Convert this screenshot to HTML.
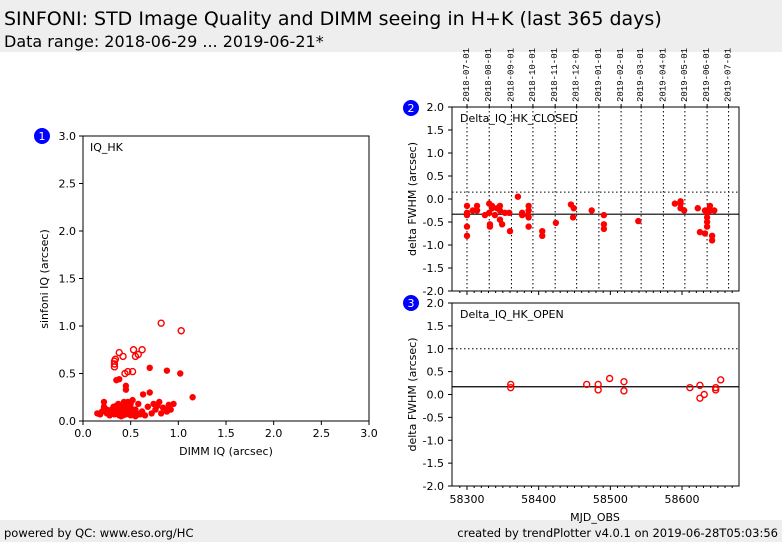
<!DOCTYPE html>
<html><head><meta charset="utf-8">
<style>
body{margin:0;width:782px;height:542px;background:#fff;font-family:"Liberation Sans","DejaVu Sans",sans-serif;overflow:hidden}
svg text{font-family:"DejaVu Sans","Liberation Sans",sans-serif}
svg text.mono{font-family:"Liberation Mono","DejaVu Sans Mono",monospace}
</style></head>
<body>
<svg id="s" width="782" height="542" xmlns="http://www.w3.org/2000/svg">
<rect x="0" y="0" width="782" height="52" fill="#eeeeee"/>
<text x="4" y="25" font-size="19">SINFONI: STD Image Quality and DIMM seeing in H+K (last 365 days)</text>
<text x="4" y="47" font-size="16">Data range: 2018-06-29 ... 2019-06-21*</text>
<rect x="0" y="520" width="782" height="22" fill="#eeeeee"/>
<text x="4" y="537" font-size="11.5">powered by QC: www.eso.org/HC</text>
<text x="778" y="537" font-size="11.5" text-anchor="end">created by trendPlotter v4.0.1 on 2019-06-28T05:03:56</text>
<g id="g"></g>
</svg>
<script>
// Left scatter: DIMM vs IQ
const scFilledX=[0.15,0.18,0.2,0.22,0.22,0.25,0.27,0.28,0.3,0.3,0.32,0.33,0.35,0.36,0.37,0.38,0.4,0.4,0.42,0.43,0.44,0.45,0.46,0.48,0.5,0.5,0.52,0.53,0.55,0.56,0.58,0.6,0.62,0.65,0.68,0.72,0.74,0.76,0.8,0.82,0.84,0.88,0.9,0.92,0.95,0.25,0.35,0.42,0.47,0.55,0.6,0.78,0.9,0.35,0.38,0.45,0.45,0.7,0.88,1.02,0.63,0.7,1.15,0.3,0.4,0.5];
const scFilledY=[0.08,0.07,0.1,0.15,0.2,0.08,0.1,0.06,0.12,0.08,0.15,0.07,0.1,0.14,0.18,0.06,0.12,0.16,0.09,0.2,0.13,0.07,0.17,0.1,0.06,0.14,0.22,0.09,0.12,0.06,0.18,0.07,0.1,0.06,0.15,0.08,0.18,0.12,0.2,0.08,0.14,0.1,0.17,0.12,0.18,0.12,0.16,0.06,0.2,0.05,0.08,0.16,0.13,0.43,0.44,0.37,0.33,0.56,0.53,0.5,0.28,0.3,0.25,0.08,0.05,0.18];
const scOpenX=[0.33,0.33,0.34,0.38,0.42,0.44,0.47,0.52,0.53,0.55,0.58,0.62,0.82,1.03,0.33];
const scOpenY=[0.57,0.6,0.65,0.72,0.68,0.5,0.52,0.52,0.75,0.68,0.7,0.75,1.03,0.95,0.63];
// Right plots
const monthLabels=["2018-07-01","2018-08-01","2018-09-01","2018-10-01","2018-11-01","2018-12-01","2019-01-01","2019-02-01","2019-03-01","2019-04-01","2019-05-01","2019-06-01","2019-07-01"];
const monthMjd=[58300,58331,58362,58392,58423,58453,58484,58515,58543,58574,58604,58635,58665];
const closedMjd=[58300,58300,58300,58300,58300,58308,58314,58314,58325,58331,58331,58332,58332,58335,58335,58339,58342,58346,58346,58346,58349,58353,58359,58360,58371,58377,58377,58385,58386,58386,58386,58386,58405,58405,58424,58445,58448,58449,58474,58491,58491,58491,58539,58590,58598,58598,58598,58603,58622,58625,58632,58632,58635,58635,58635,58635,58635,58639,58639,58642,58642,58645];
const closedVal=[-0.15,-0.3,-0.35,-0.6,-0.8,-0.25,-0.15,-0.25,-0.35,-0.1,-0.3,-0.55,-0.6,-0.2,-0.15,-0.35,-0.2,-0.15,-0.25,-0.45,-0.55,-0.3,-0.3,-0.7,0.05,-0.3,-0.35,-0.35,-0.25,-0.15,-0.4,-0.6,-0.7,-0.8,-0.52,-0.12,-0.4,-0.2,-0.25,-0.55,-0.65,-0.35,-0.48,-0.1,-0.05,-0.1,-0.2,-0.25,-0.2,-0.72,-0.25,-0.75,-0.3,-0.4,-0.5,-0.6,-0.25,-0.15,-0.25,-0.8,-0.9,-0.25];
const openMjd=[58361,58361,58467,58483,58483,58499,58519,58519,58611,58625,58625,58631,58647,58647,58654];
const openVal=[0.15,0.22,0.22,0.1,0.22,0.35,0.08,0.28,0.15,0.2,-0.08,0.0,0.1,0.15,0.32];
const closedRef=-0.33, closedDot=0.15, openRef=0.17, openDot=1.0;
const yTicks=[-2.0,-1.5,-1.0,-0.5,0.0,0.5,1.0,1.5,2.0];
const xTicksMjd=[58300,58400,58500,58600];
const scTicks=[0.0,0.5,1.0,1.5,2.0,2.5,3.0];

const NS="http://www.w3.org/2000/svg", g=document.getElementById('g');
function el(t,a,txt){const e=document.createElementNS(NS,t);for(const k in a)e.setAttribute(k,a[k]);if(txt!==undefined)e.textContent=txt;g.appendChild(e);return e;}

// left scatter
const L={x0:83,x1:369,y0:136,y1:421};
const sx=v=>L.x0+(v/3)*(L.x1-L.x0), sy=v=>L.y1-(v/3)*(L.y1-L.y0);
let r=el('rect',{x:L.x0,y:L.y0,width:L.x1-L.x0,height:L.y1-L.y0,fill:'none',stroke:'#000','stroke-width':1});

scTicks.forEach(t=>{
 let a=el('line',{x1:sx(t),x2:sx(t),y1:L.y1,y2:L.y1+4,stroke:'#000'});
 let b=el('text',{x:sx(t),y:L.y1+16,'font-size':11,'text-anchor':'middle'},t.toFixed(1));
 let c=el('line',{x1:L.x0-4,x2:L.x0,y1:sy(t),y2:sy(t),stroke:'#000'});
 let d=el('text',{x:L.x0-7,y:sy(t)+4,'font-size':11,'text-anchor':'end'},t.toFixed(1));
});
let t1=el('text',{x:226,y:455,'font-size':11,'text-anchor':'middle'},'DIMM IQ (arcsec)');
let t2=el('text',{x:48,y:279,'font-size':11,'text-anchor':'middle',transform:'rotate(-90 48 279)'},'sinfoni IQ (arcsec)');
let t3=el('text',{x:90,y:151,'font-size':11},'IQ_HK');
scFilledX.forEach((v,i)=>{let c=el('circle',{cx:sx(v),cy:sy(scFilledY[i]),r:3.2,fill:'#f00'});});
scOpenX.forEach((v,i)=>{let c=el('circle',{cx:sx(v),cy:sy(scOpenY[i]),r:3,fill:'none',stroke:'#f00','stroke-width':1.4});});

function badge(x,y,n){let c=el('circle',{cx:x,cy:y,r:8,fill:'#0000ff'});
 let t=el('text',{x:x,y:y+4,'font-size':11,fill:'#fff','text-anchor':'middle'},n);}
badge(42,136,'1');badge(411,108,'2');badge(411,303,'3');

// right panels
const mx=m=>467+(m-58300)*0.7167;
function panel(y0,y1,name,mj,vals,filled,ref,dot,grid){
 const y=v=>(y0+y1)/2-v*(y1-y0)/4;
 if(grid) monthMjd.forEach(m=>{let l=el('line',{x1:mx(m),x2:mx(m),y1:y0,y2:y1,stroke:'#000','stroke-dasharray':'1.5,2.5','stroke-width':1});});
 let d=el('line',{x1:452,x2:739,y1:y(dot),y2:y(dot),stroke:'#000','stroke-dasharray':'1.5,2.5'});
 let s=el('line',{x1:452,x2:739,y1:y(ref),y2:y(ref),stroke:'#000','stroke-width':1.2});
 let f=el('rect',{x:452,y:y0,width:287,height:y1-y0,fill:'none',stroke:'#000'});
 yTicks.forEach(t=>{let a=el('line',{x1:448,x2:452,y1:y(t),y2:y(t),stroke:'#000'});
  let b=el('text',{x:444,y:y(t)+4,'font-size':11,'text-anchor':'end'},t.toFixed(1));});
 for(let m=58290;m<=58675;m+=10){let a=el('line',{x1:mx(m),x2:mx(m),y1:y1,y2:y1+(m%100==0?4:2),stroke:'#000'});}
 let t=el('text',{x:416,y:(y0+y1)/2,'font-size':11,'text-anchor':'middle',transform:`rotate(-90 416 ${(y0+y1)/2})`},'delta FWHM (arcsec)');
 let lb=el('text',{x:460,y:y0+15,'font-size':11},name==='closed-panel'?'Delta_IQ_HK_CLOSED':'Delta_IQ_HK_OPEN');
 mj.forEach((m,i)=>{let c=filled?el('circle',{cx:mx(m),cy:y(vals[i]),r:3.2,fill:'#f00'}):el('circle',{cx:mx(m),cy:y(vals[i]),r:3,fill:'none',stroke:'#f00','stroke-width':1.4});
  });
 return y;
}
panel(107,291,'closed-panel',closedMjd,closedVal,true,closedRef,closedDot,true);
panel(303,486,'open-panel',openMjd,openVal,false,openRef,openDot,false);
xTicksMjd.forEach(m=>{let b=el('text',{x:mx(m),y:503,'font-size':11,'text-anchor':'middle'},String(m));});
let xt=el('text',{x:595,y:521,'font-size':11,'text-anchor':'middle'},'MJD_OBS');
monthLabels.forEach((s,i)=>{const x=mx(monthMjd[i])+2;let t=el('text',{x:x,y:102,'font-size':9,'class':'mono',transform:`rotate(-90 ${x} 102)`},s);
 let k=el('line',{x1:mx(monthMjd[i]),x2:mx(monthMjd[i]),y1:104,y2:107,stroke:'#000'});});
</script>
</body></html>
